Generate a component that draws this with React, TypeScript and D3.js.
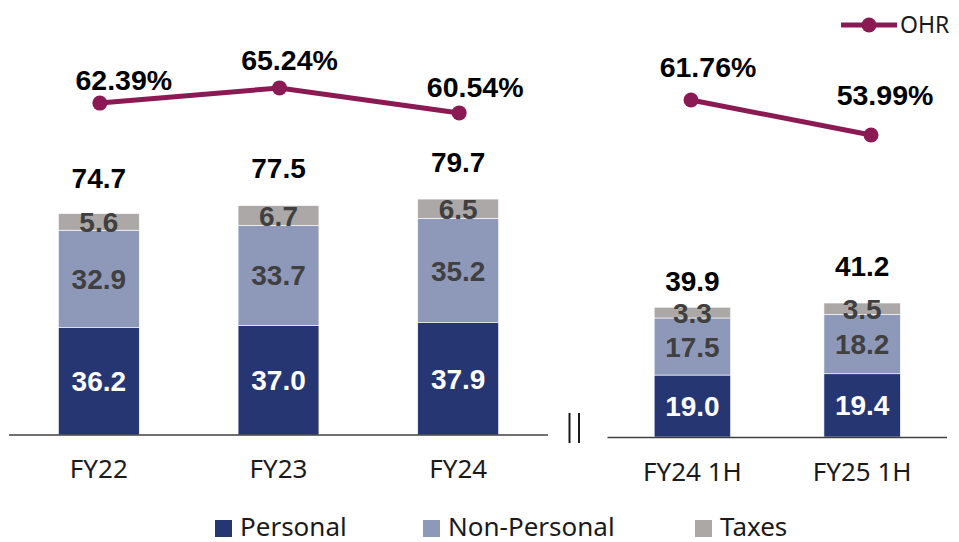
import React from "react";
import * as d3 from "d3";

// ---- Data ----
const leftCategories = ["FY22", "FY23", "FY24"];
const rightCategories = ["FY24 1H", "FY25 1H"];
const leftPersonal = [36.2, 37.0, 37.9];
const leftNonPersonal = [32.9, 33.7, 35.2];
const leftTaxes = [5.6, 6.7, 6.5];
const leftTotals = [74.7, 77.5, 79.7];
const leftOHR = [62.39, 65.24, 60.54];
const rightPersonal = [19.0, 19.4];
const rightNonPersonal = [17.5, 18.2];
const rightTaxes = [3.3, 3.5];
const rightTotals = [39.9, 41.2];
const rightOHR = [61.76, 53.99];
const seriesNames = ["Personal", "Non-Personal", "Taxes"];
const lineName = "OHR";

// ---- Layout / style ----
const W = 959;
const H = 542;
const colors = ["#263673", "#8e99ba", "#aca8a7"];
const lineColor = "#8b1a54";
const numFont = "'Liberation Sans', Arial, sans-serif";
const textFont = "'Noto Sans', sans-serif";
const leftTotalDy = [-26, -27, -27];
const rightTotalDy = [-16, -27];
const leftOhrOff = [[24, -12.6], [10, -18], [16, -16]];
const rightOhrOff = [[17, -23], [14, -30]];

type Panel = {
  cats: string[];
  segs: number[][];
  totals: number[];
  ohr: number[];
  x: d3.ScaleBand<string>;
  y: d3.ScaleLinear<number, number>;
  lx: (c: string) => number;
  ly: d3.ScaleLinear<number, number>;
  base: number;
  x0: number;
  x1: number;
  totalDy: number[];
  ohrOff: number[][];
};

const leftX = d3.scaleBand<string>().domain(leftCategories).range([9, 548]).paddingInner(0.55).paddingOuter(0.275);
const rightX = d3.scaleBand<string>().domain(rightCategories).range([607.5, 947]).paddingInner(0.55).paddingOuter(0.275);
const leftY = d3.scaleLinear().domain([0, 140]).range([435, 435 - 140 * 2.964]);
const rightY = d3.scaleLinear().domain([0, 120]).range([437, 437 - 120 * 3.26]);
const leftLY = d3.scaleLinear().domain([0, 80]).range([435, 435 - 80 * 5.32]);
const rightLY = d3.scaleLinear().domain([50, 65]).range([153, 85.4]);
const rightLX = d3.scalePoint<string>().domain(rightCategories).range([691, 871]);

const panels: Panel[] = [
  {
    cats: leftCategories,
    segs: [leftPersonal, leftNonPersonal, leftTaxes],
    totals: leftTotals,
    ohr: leftOHR,
    x: leftX,
    y: leftY,
    lx: (c) => (leftX(c) as number) + leftX.bandwidth() / 2 + 1,
    ly: leftLY,
    base: 435,
    x0: 9,
    x1: 548,
    totalDy: leftTotalDy,
    ohrOff: leftOhrOff,
  },
  {
    cats: rightCategories,
    segs: [rightPersonal, rightNonPersonal, rightTaxes],
    totals: rightTotals,
    ohr: rightOHR,
    x: rightX,
    y: rightY,
    lx: (c) => rightLX(c) as number,
    ly: rightLY,
    base: 437.5,
    x0: 607.5,
    x1: 947,
    totalDy: rightTotalDy,
    ohrOff: rightOhrOff,
  },
];

function PanelView({ p }: { p: Panel }) {
  const stackData = p.cats.map((c, i) => {
    const o: any = { cat: c };
    seriesNames.forEach((s, k) => (o[s] = p.segs[k][i]));
    return o;
  });
  const stacked = d3.stack<any>().keys(seriesNames)(stackData);
  const line = d3
    .line<number>()
    .x((_, i) => p.lx(p.cats[i]))
    .y((d) => p.ly(d));
  const bw = p.x.bandwidth();
  return (
    <g>
      {stacked.map((layer, k) =>
        layer.map((d, i) => {
          const cat = p.cats[i];
          const x = p.x(cat) as number;
          const y0 = p.y(d[0]);
          const y1 = p.y(d[1]);
          return (
            <rect key={`${k}-${i}`} x={x} y={y1} width={bw} height={y0 - y1} fill={colors[k]} stroke="#ffffff" strokeWidth={0.6} />
          );
        })
      )}
      {stacked.map((layer, k) =>
        layer.map((d, i) => {
          const cat = p.cats[i];
          const x = p.x(cat) as number;
          const yc = (p.y(d[0]) + p.y(d[1])) / 2;
          return (
            <text
              key={`t${k}-${i}`}
              x={x + bw / 2}
              y={yc}
              dy="0.36em"
              textAnchor="middle"
              fontFamily={numFont}
              fontWeight="bold"
              fontSize={28}
              fill={k === 0 ? "#ffffff" : "#404040"}
            >
              {p.segs[k][i].toFixed(1)}
            </text>
          );
        })
      )}
      {p.cats.map((c, i) => (
        <text
          key={`tot${i}`}
          x={(p.x(c) as number) + bw / 2}
          y={p.y(p.totals[i]) + p.totalDy[i]}
          textAnchor="middle"
          fontFamily={numFont}
          fontWeight="bold"
          fontSize={28}
          fill="#000000"
        >
          {p.totals[i].toFixed(1)}
        </text>
      ))}
      {p.cats.map((c, i) => (
        <text
          key={`cat${i}`}
          x={(p.x(c) as number) + bw / 2}
          y={p.base + 43}
          textAnchor="middle"
          fontFamily={textFont}
          fontSize={26}
          fill="#1a1a1a"
        >
          {c}
        </text>
      ))}
      <line x1={p.x0} x2={p.x1} y1={p.base} y2={p.base} stroke="#404040" strokeWidth={1.5} />
      <path d={line(p.ohr) || ""} fill="none" stroke={lineColor} strokeWidth={5} />
      {p.ohr.map((v, i) => (
        <circle key={`c${i}`} cx={p.lx(p.cats[i])} cy={p.ly(v)} r={7.5} fill={lineColor} />
      ))}
      {p.ohr.map((v, i) => (
        <text
          key={`o${i}`}
          x={p.lx(p.cats[i]) + p.ohrOff[i][0]}
          y={p.ly(v) + p.ohrOff[i][1]}
          textAnchor="middle"
          fontFamily={numFont}
          fontWeight="bold"
          fontSize={28.5}
          fill="#000000"
        >
          {v.toFixed(2)}%
        </text>
      ))}
    </g>
  );
}

const legendSquares = [215, 423, 695];

export default function App() {
  return (
    <div style={{ position: "absolute", left: 0, top: 0, width: W, height: H, background: "#fff" }}>
      <svg width={W} height={H} style={{ display: "block" }}>
        {panels.map((p, i) => (
          <PanelView key={i} p={p} />
        ))}
        {/* axis break */}
        <line x1={569.5} x2={569.5} y1={413} y2={443} stroke="#1a1a1a" strokeWidth={2} />
        <line x1={579} x2={579} y1={413} y2={443} stroke="#1a1a1a" strokeWidth={2} />
        {/* legend */}
        {seriesNames.map((s, k) => (
          <g key={s}>
            <rect x={legendSquares[k]} y={520} width={17} height={17} fill={colors[k]} />
            <text x={legendSquares[k] + 25} y={535.5} fontFamily={textFont} fontSize={26} fill="#1a1a1a">
              {s}
            </text>
          </g>
        ))}
        <line x1={841} x2={897} y1={25} y2={25} stroke={lineColor} strokeWidth={5} />
        <circle cx={869} cy={25} r={7.5} fill={lineColor} />
        <text x={900} y={33} fontFamily={textFont} fontSize={23} fill="#1a1a1a">
          {lineName}
        </text>
      </svg>
    </div>
  );
}
